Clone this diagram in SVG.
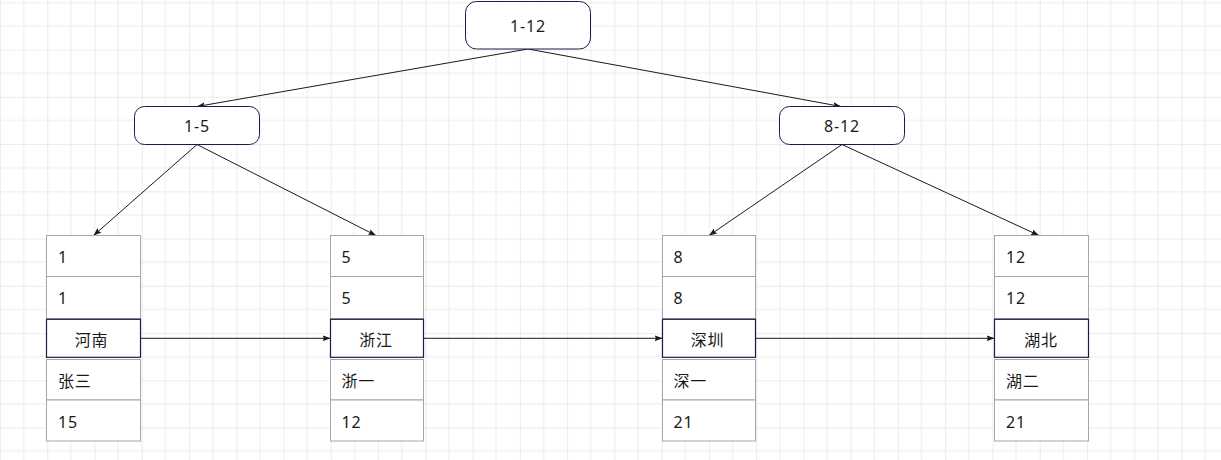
<svg xmlns="http://www.w3.org/2000/svg" width="1221" height="460" viewBox="0 0 1221 460">
<style>
.rn{fill:#fff;stroke:#1b1b4b;stroke-width:1}
.cell{fill:#fff;stroke:#a6a6a6;stroke-width:1}
.key{fill:#fff;stroke:#1b1b4b;stroke-width:1.2}
text{font-family:"Microsoft YaHei","Noto Sans","Noto Sans CJK SC",sans-serif;font-size:16px;letter-spacing:0.8px;fill:#1a1a1a}
.c{text-anchor:middle}
.edge{stroke:#1a1a1a;stroke-width:1;fill:none;marker-end:url(#arr)}
</style>
<defs>
<pattern id="grid" x="0" y="2.3" width="47.26" height="47.26" patternUnits="userSpaceOnUse">
<path d="M23.63 0V47.26M0 23.63H47.26" stroke="#ececec" stroke-width="1" fill="none"/>
<path d="M0 0V47.26M0 0H47.26" stroke="#dadada" stroke-width="1" fill="none"/>
</pattern>
<marker id="arr" viewBox="0 0 8 6" refX="8" refY="3" markerWidth="8" markerHeight="6" markerUnits="userSpaceOnUse" orient="auto">
<path d="M0 0L8 3L0 6L1.5 3z" fill="#1a1a1a"/>
</marker>
</defs>
<rect width="1221" height="460" fill="#fff"/>
<rect width="1221" height="460" fill="url(#grid)"/>

<g id="connectors">
<line class="edge" x1="528" y1="49" x2="197" y2="106.5"/>
<line class="edge" x1="528" y1="49" x2="841" y2="106.5"/>
<line class="edge" x1="197" y1="144.5" x2="93.5" y2="235.5"/>
<line class="edge" x1="197" y1="144.5" x2="376" y2="235.5"/>
<line class="edge" x1="842" y1="144.5" x2="709" y2="235.5"/>
<line class="edge" x1="842" y1="144.5" x2="1039" y2="235.5"/>
<line class="edge" x1="140.5" y1="338.3" x2="330.5" y2="338.3"/>
<line class="edge" x1="423.5" y1="338.3" x2="662.5" y2="338.3"/>
<line class="edge" x1="755.5" y1="338.3" x2="994.5" y2="338.3"/>
</g>

<g id="root">
<rect class="rn" x="465.5" y="1.5" width="125" height="47.5" rx="11"/>
<text class="c" x="528" y="31.5">1-12</text>
</g>
<g id="n1-5">
<rect class="rn" x="134.5" y="106.5" width="125" height="38" rx="10"/>
<text class="c" x="197" y="131.5">1-5</text>
</g>
<g id="n8-12">
<rect class="rn" x="779.5" y="106.5" width="125" height="38" rx="10"/>
<text class="c" x="842" y="131.5">8-12</text>
</g>

<g id="leaf1">
<rect class="cell" x="46.5" y="235.5" width="94" height="41"/>
<rect class="cell" x="46.5" y="276.5" width="94" height="42"/>
<rect class="key" x="46.5" y="319.3" width="94" height="38"/>
<rect class="cell" x="46.5" y="359.5" width="94" height="40.5"/>
<rect class="cell" x="46.5" y="400" width="94" height="41"/>
<text x="58" y="263">1</text>
<text x="58" y="304">1</text>
<text class="c" x="91.5" y="345.5">河南</text>
<text x="58" y="386.5">张三</text>
<text x="58" y="427.5">15</text>
</g>
<g id="leaf2">
<rect class="cell" x="330.5" y="235.5" width="93" height="41"/>
<rect class="cell" x="330.5" y="276.5" width="93" height="42"/>
<rect class="key" x="330.5" y="319.3" width="93" height="38"/>
<rect class="cell" x="330.5" y="359.5" width="93" height="40.5"/>
<rect class="cell" x="330.5" y="400" width="93" height="41"/>
<text x="341.5" y="263">5</text>
<text x="341.5" y="304">5</text>
<text class="c" x="376" y="345.5">浙江</text>
<text x="341.5" y="386.5">浙一</text>
<text x="341.5" y="427.5">12</text>
</g>
<g id="leaf3">
<rect class="cell" x="662.5" y="235.5" width="93" height="41"/>
<rect class="cell" x="662.5" y="276.5" width="93" height="42"/>
<rect class="key" x="662.5" y="319.3" width="93" height="38"/>
<rect class="cell" x="662.5" y="359.5" width="93" height="40.5"/>
<rect class="cell" x="662.5" y="400" width="93" height="41"/>
<text x="673.5" y="263">8</text>
<text x="673.5" y="304">8</text>
<text class="c" x="707.5" y="345.5">深圳</text>
<text x="673.5" y="386.5">深一</text>
<text x="673.5" y="427.5">21</text>
</g>
<g id="leaf4">
<rect class="cell" x="994.5" y="235.5" width="94" height="41"/>
<rect class="cell" x="994.5" y="276.5" width="94" height="42"/>
<rect class="key" x="994.5" y="319.3" width="94" height="38"/>
<rect class="cell" x="994.5" y="359.5" width="94" height="40.5"/>
<rect class="cell" x="994.5" y="400" width="94" height="41"/>
<text x="1006" y="263">12</text>
<text x="1006" y="304">12</text>
<text class="c" x="1041" y="345.5">湖北</text>
<text x="1006" y="386.5">湖二</text>
<text x="1006" y="427.5">21</text>
</g>
</svg>
